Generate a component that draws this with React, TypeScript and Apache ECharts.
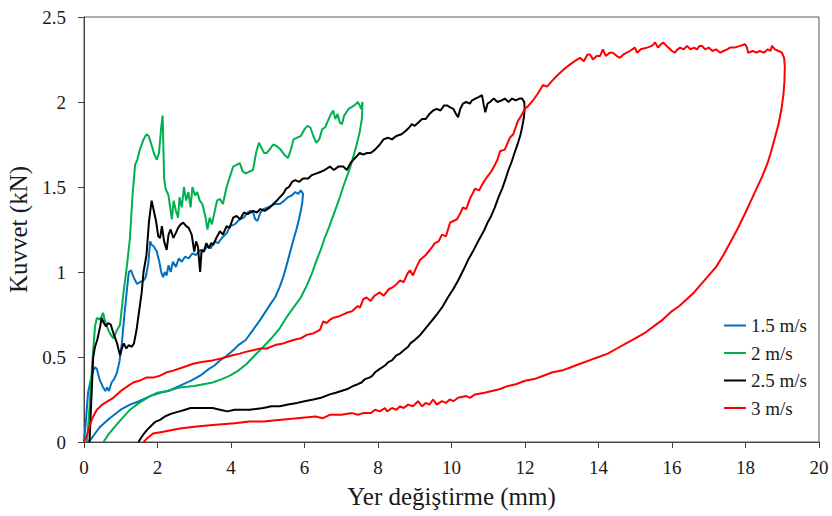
import React, { useEffect, useRef } from "react";
import * as echarts from "echarts";

const seriesNames = ["1.5 m/s", "2 m/s", "2.5 m/s", "3 m/s"];
const seriesColors = ["#0070C0", "#00B050", "#000000", "#FF0000"];
const xTicks = [0, 2, 4, 6, 8, 10, 12, 14, 16, 18, 20];
const yTicks = [0, 0.5, 1, 1.5, 2, 2.5];

const blue15 = [
  [0, 0], [0.05, 0.12], [0.11, 0.29], [0.18, 0.36], [0.25, 0.42], [0.3, 0.44], [0.35, 0.43], [0.42, 0.37],
  [0.5, 0.33], [0.58, 0.3], [0.63, 0.32], [0.68, 0.3], [0.75, 0.35], [0.82, 0.37], [0.9, 0.41], [0.97, 0.48],
  [1.03, 0.58], [1.1, 0.75], [1.17, 0.9], [1.22, 1.0], [1.28, 1.01], [1.35, 0.97], [1.44, 0.93], [1.52, 0.94],
  [1.62, 0.95], [1.68, 0.97], [1.75, 1.05], [1.8, 1.18], [1.84, 1.16], [1.9, 1.15], [1.98, 1.12], [2.05, 1.06],
  [2.1, 1.0], [2.15, 0.97], [2.2, 1.0], [2.25, 0.98], [2.3, 1.04], [2.36, 1.0], [2.42, 1.06], [2.5, 1.03],
  [2.58, 1.08], [2.66, 1.06], [2.75, 1.09], [2.85, 1.08], [2.95, 1.11], [3.05, 1.1], [3.16, 1.13], [3.25, 1.12],
  [3.35, 1.15], [3.45, 1.14], [3.55, 1.18], [3.65, 1.17], [3.75, 1.2], [3.89, 1.23], [3.97, 1.27], [4.1, 1.28],
  [4.24, 1.31], [4.35, 1.32], [4.45, 1.35], [4.52, 1.36], [4.6, 1.35], [4.66, 1.31], [4.72, 1.3], [4.8, 1.35],
  [4.88, 1.37], [5.0, 1.38], [5.1, 1.39], [5.2, 1.4], [5.33, 1.4], [5.45, 1.42], [5.55, 1.44], [5.65, 1.45],
  [5.75, 1.47], [5.83, 1.46], [5.9, 1.48], [5.96, 1.46],
  [5.94, 1.41], [5.9, 1.36], [5.85, 1.31], [5.78, 1.25], [5.7, 1.19], [5.6, 1.11], [5.5, 1.03], [5.42, 0.97],
  [5.32, 0.91], [5.2, 0.85], [5.1, 0.82], [4.98, 0.78], [4.8, 0.72], [4.6, 0.66], [4.4, 0.6], [4.2, 0.57],
  [4.06, 0.54], [3.9, 0.51], [3.7, 0.48], [3.55, 0.45], [3.4, 0.43], [3.16, 0.39], [2.9, 0.36], [2.6, 0.33],
  [2.3, 0.3], [2.07, 0.29], [1.8, 0.27], [1.5, 0.24], [1.25, 0.22], [1.0, 0.19], [0.7, 0.14], [0.44, 0.09],
  [0.3, 0.05], [0.2, 0.02], [0.12, 0]
];

const green2 = [
  [0.08, 0], [0.15, 0.2], [0.22, 0.45], [0.3, 0.68], [0.35, 0.73], [0.42, 0.72], [0.48, 0.74], [0.52, 0.76],
  [0.56, 0.72], [0.62, 0.68], [0.7, 0.64], [0.8, 0.61], [0.88, 0.65], [0.98, 0.69], [1.07, 0.87], [1.17, 1.04],
  [1.25, 1.2], [1.32, 1.45], [1.39, 1.63], [1.45, 1.66], [1.52, 1.72], [1.62, 1.78], [1.7, 1.81], [1.76, 1.8],
  [1.82, 1.76], [1.9, 1.7], [1.98, 1.66], [2.04, 1.7], [2.1, 1.85], [2.14, 1.92], [2.18, 1.55], [2.22, 1.49],
  [2.3, 1.45], [2.39, 1.31], [2.44, 1.42], [2.5, 1.36], [2.56, 1.32], [2.6, 1.44], [2.66, 1.38], [2.72, 1.5],
  [2.78, 1.42], [2.84, 1.47], [2.9, 1.38], [2.95, 1.5], [3.02, 1.45], [3.08, 1.47], [3.15, 1.42], [3.22, 1.4],
  [3.3, 1.33], [3.36, 1.25], [3.42, 1.32], [3.48, 1.28], [3.55, 1.35], [3.62, 1.42], [3.7, 1.43], [3.78, 1.4],
  [3.88, 1.5], [3.97, 1.56], [4.06, 1.62], [4.15, 1.63], [4.24, 1.64], [4.32, 1.59], [4.4, 1.58], [4.5, 1.59],
  [4.6, 1.6], [4.68, 1.7], [4.76, 1.76], [4.83, 1.73], [4.9, 1.7], [4.97, 1.7], [5.05, 1.72], [5.15, 1.75],
  [5.25, 1.74], [5.35, 1.72], [5.45, 1.69], [5.55, 1.67], [5.63, 1.72], [5.7, 1.78], [5.8, 1.79], [5.9, 1.8],
  [6.0, 1.84], [6.08, 1.86], [6.16, 1.85], [6.24, 1.8], [6.32, 1.76], [6.4, 1.78], [6.48, 1.84], [6.56, 1.85],
  [6.62, 1.88], [6.7, 1.92], [6.78, 1.95], [6.84, 1.9], [6.9, 1.93], [6.96, 1.88], [7.02, 1.87], [7.08, 1.92],
  [7.14, 1.94], [7.2, 1.96], [7.28, 1.97], [7.36, 1.98], [7.45, 2.0], [7.5, 1.98], [7.54, 1.96], [7.58, 2.0],
  [7.56, 1.9], [7.5, 1.82], [7.42, 1.75], [7.33, 1.68], [7.25, 1.62], [7.15, 1.56], [7.05, 1.5], [6.98, 1.45],
  [6.88, 1.39], [6.78, 1.33], [6.66, 1.26], [6.55, 1.2], [6.44, 1.13], [6.33, 1.07], [6.2, 0.99], [6.06, 0.92],
  [5.9, 0.85], [5.7, 0.79], [5.5, 0.73], [5.33, 0.67], [5.1, 0.61], [4.88, 0.56], [4.65, 0.51], [4.43, 0.46],
  [4.2, 0.42], [3.97, 0.39], [3.75, 0.37], [3.5, 0.35], [3.25, 0.34], [3.0, 0.33], [2.6, 0.32], [2.25, 0.3],
  [2.0, 0.29], [1.8, 0.27], [1.5, 0.23], [1.25, 0.19], [1.0, 0.13], [0.8, 0.08], [0.65, 0.04], [0.53, 0]
];

const black25 = [
  [0.15, 0], [0.2, 0.25], [0.25, 0.5], [0.3, 0.56], [0.36, 0.6], [0.44, 0.68], [0.48, 0.73], [0.54, 0.7],
  [0.6, 0.68], [0.66, 0.7], [0.73, 0.69], [0.8, 0.64], [0.9, 0.58], [0.98, 0.51], [1.03, 0.55], [1.08, 0.58],
  [1.15, 0.55], [1.22, 0.57], [1.3, 0.56], [1.36, 0.58], [1.43, 0.66], [1.5, 0.77], [1.57, 0.88], [1.62, 1.0],
  [1.7, 1.1], [1.77, 1.3], [1.84, 1.42], [1.9, 1.36], [1.96, 1.3], [2.02, 1.21], [2.07, 1.2], [2.12, 1.27],
  [2.18, 1.18], [2.25, 1.13], [2.3, 1.22], [2.36, 1.25], [2.43, 1.2], [2.5, 1.23], [2.56, 1.26], [2.63, 1.28],
  [2.7, 1.29], [2.78, 1.27], [2.85, 1.26], [2.93, 1.22], [3.0, 1.12], [3.05, 1.18], [3.1, 1.15], [3.16, 1.0],
  [3.2, 1.13], [3.26, 1.12], [3.33, 1.17], [3.4, 1.14], [3.46, 1.17], [3.52, 1.16], [3.6, 1.2], [3.7, 1.24],
  [3.78, 1.22], [3.88, 1.27], [3.96, 1.26], [4.06, 1.32], [4.15, 1.33], [4.25, 1.31], [4.35, 1.35], [4.45, 1.34],
  [4.6, 1.36], [4.7, 1.35], [4.8, 1.37], [4.92, 1.36], [5.06, 1.38], [5.15, 1.4], [5.25, 1.42], [5.33, 1.44],
  [5.42, 1.46], [5.5, 1.49], [5.58, 1.5], [5.66, 1.53], [5.75, 1.54], [5.85, 1.53], [5.96, 1.55], [6.1, 1.55],
  [6.2, 1.57], [6.33, 1.58], [6.45, 1.59], [6.55, 1.6], [6.69, 1.62], [6.8, 1.6], [6.92, 1.62], [7.06, 1.62],
  [7.15, 1.6], [7.25, 1.64], [7.33, 1.66], [7.42, 1.68], [7.5, 1.7], [7.6, 1.69], [7.7, 1.7], [7.8, 1.7],
  [7.92, 1.72], [8.05, 1.75], [8.15, 1.78], [8.27, 1.79], [8.38, 1.78], [8.5, 1.8], [8.64, 1.81], [8.75, 1.83],
  [8.85, 1.85], [8.92, 1.87], [9.0, 1.86], [9.1, 1.88], [9.2, 1.9], [9.3, 1.9], [9.4, 1.93], [9.5, 1.95],
  [9.6, 1.96], [9.7, 1.95], [9.8, 1.98], [9.88, 1.98], [9.95, 1.97], [10.05, 1.96], [10.12, 1.93], [10.18, 1.91],
  [10.24, 1.96], [10.31, 1.99], [10.4, 2.0], [10.5, 1.99], [10.56, 2.01], [10.65, 2.02], [10.75, 2.03], [10.83, 2.04],
  [10.88, 1.98], [10.92, 1.94], [10.98, 1.99], [11.05, 2.0], [11.15, 2.02], [11.25, 2.0], [11.37, 2.01], [11.45, 2.02],
  [11.55, 2.0], [11.65, 2.02], [11.75, 2.01], [11.85, 2.02], [11.92, 2.02], [11.98, 2.0],
  [11.99, 1.96], [11.97, 1.91], [11.93, 1.86], [11.88, 1.81], [11.81, 1.76], [11.73, 1.71], [11.64, 1.65], [11.55, 1.6],
  [11.46, 1.54], [11.38, 1.49], [11.28, 1.44], [11.18, 1.38], [11.08, 1.33], [10.98, 1.29], [10.9, 1.25], [10.8, 1.21],
  [10.7, 1.17], [10.58, 1.12], [10.45, 1.07], [10.32, 1.01], [10.18, 0.95], [10.05, 0.9], [9.9, 0.85], [9.74, 0.79],
  [9.6, 0.75], [9.45, 0.71], [9.3, 0.67], [9.15, 0.63], [9.0, 0.6], [8.88, 0.58], [8.82, 0.56], [8.7, 0.54],
  [8.6, 0.52], [8.5, 0.51], [8.38, 0.48], [8.28, 0.47], [8.19, 0.45], [8.05, 0.43], [7.92, 0.41], [7.85, 0.39],
  [7.78, 0.38], [7.65, 0.37], [7.55, 0.35], [7.45, 0.34], [7.33, 0.33], [7.15, 0.31], [7.0, 0.3], [6.85, 0.29],
  [6.69, 0.28], [6.45, 0.26], [6.24, 0.25], [6.0, 0.24], [5.8, 0.23], [5.55, 0.22], [5.33, 0.21], [5.1, 0.21],
  [4.88, 0.2], [4.5, 0.19], [4.1, 0.19], [3.9, 0.18], [3.7, 0.19], [3.5, 0.2], [3.3, 0.2], [3.07, 0.2],
  [2.9, 0.2], [2.75, 0.19], [2.6, 0.18], [2.43, 0.17], [2.3, 0.16], [2.2, 0.15], [2.07, 0.13], [1.95, 0.12],
  [1.85, 0.1], [1.71, 0.07], [1.6, 0.04], [1.48, 0]
];

const red3 = [
  [0, 0], [0.08, 0.04], [0.16, 0.1], [0.25, 0.15], [0.35, 0.19], [0.5, 0.22], [0.65, 0.24], [0.8, 0.26],
  [1.0, 0.3], [1.2, 0.33], [1.34, 0.35], [1.5, 0.36], [1.71, 0.38], [1.9, 0.38], [2.07, 0.39], [2.25, 0.41],
  [2.43, 0.42], [2.7, 0.44], [2.97, 0.46], [3.2, 0.47], [3.5, 0.48], [3.7, 0.49], [3.88, 0.5], [4.05, 0.51],
  [4.24, 0.52], [4.4, 0.53], [4.6, 0.54], [4.8, 0.55], [4.97, 0.55], [5.2, 0.57], [5.42, 0.58], [5.55, 0.59],
  [5.7, 0.6], [5.9, 0.61], [6.06, 0.63], [6.25, 0.64], [6.42, 0.66], [6.51, 0.71], [6.6, 0.7], [6.7, 0.72],
  [6.78, 0.73], [6.95, 0.74], [7.15, 0.76], [7.3, 0.77], [7.45, 0.8], [7.51, 0.79], [7.6, 0.84], [7.69, 0.85],
  [7.8, 0.83], [7.9, 0.86], [8.05, 0.88], [8.15, 0.86], [8.3, 0.9], [8.4, 0.91], [8.51, 0.93], [8.6, 0.95],
  [8.7, 0.94], [8.8, 0.99], [8.87, 1.01], [8.95, 0.98], [9.05, 1.03], [9.14, 1.07], [9.3, 1.1], [9.45, 1.14],
  [9.55, 1.17], [9.65, 1.18], [9.74, 1.22], [9.85, 1.21], [9.96, 1.29], [10.05, 1.3], [10.15, 1.31], [10.25, 1.35],
  [10.31, 1.38], [10.4, 1.37], [10.5, 1.43], [10.64, 1.49], [10.75, 1.48], [10.85, 1.52], [10.97, 1.56], [11.08, 1.59],
  [11.18, 1.63], [11.25, 1.66], [11.32, 1.71], [11.45, 1.72], [11.59, 1.79], [11.68, 1.81], [11.81, 1.89], [11.9, 1.92],
  [12.0, 1.96], [12.1, 1.98], [12.22, 2.01], [12.35, 2.05], [12.49, 2.1], [12.6, 2.09], [12.76, 2.13], [12.85, 2.15],
  [12.95, 2.17], [13.1, 2.2], [13.22, 2.22], [13.35, 2.24], [13.5, 2.26], [13.6, 2.24], [13.7, 2.28], [13.77, 2.28],
  [13.85, 2.25], [13.95, 2.27], [14.04, 2.27], [14.12, 2.31], [14.2, 2.27], [14.3, 2.29], [14.39, 2.29], [14.5, 2.27],
  [14.58, 2.26], [14.68, 2.28], [14.77, 2.29], [14.85, 2.3], [14.99, 2.32], [15.05, 2.29], [15.15, 2.31], [15.32, 2.32],
  [15.45, 2.33], [15.54, 2.35], [15.62, 2.32], [15.7, 2.34], [15.76, 2.35], [15.9, 2.32], [16.0, 2.3], [16.08, 2.29],
  [16.15, 2.31], [16.22, 2.32], [16.32, 2.31], [16.41, 2.33], [16.5, 2.31], [16.6, 2.32], [16.68, 2.31], [16.75, 2.33],
  [16.82, 2.33], [16.9, 2.31], [17.0, 2.32], [17.1, 2.3], [17.2, 2.31], [17.31, 2.29], [17.4, 2.3], [17.5, 2.31],
  [17.58, 2.32], [17.7, 2.32], [17.85, 2.33], [17.99, 2.34], [18.04, 2.32], [18.07, 2.29], [18.2, 2.3], [18.3, 2.29],
  [18.39, 2.3], [18.5, 2.29], [18.61, 2.31], [18.68, 2.3], [18.72, 2.33], [18.8, 2.31], [18.9, 2.3], [18.99, 2.29],
  [19.05, 2.26],
  [19.07, 2.21], [19.06, 2.12], [19.03, 2.04], [18.98, 1.96], [18.9, 1.87], [18.8, 1.79], [18.7, 1.71], [18.6, 1.64],
  [18.45, 1.56], [18.3, 1.49], [18.15, 1.42], [18.0, 1.35], [17.8, 1.26], [17.6, 1.18], [17.4, 1.1], [17.2, 1.03],
  [17.0, 0.98], [16.8, 0.93], [16.6, 0.88], [16.4, 0.84], [16.2, 0.8], [16.0, 0.77], [15.75, 0.72], [15.5, 0.68],
  [15.25, 0.64], [15.0, 0.61], [14.75, 0.58], [14.5, 0.55], [14.25, 0.52], [14.0, 0.5], [13.75, 0.48], [13.5, 0.46],
  [13.25, 0.44], [13.0, 0.42], [12.75, 0.41], [12.5, 0.39], [12.25, 0.37], [12.0, 0.36], [11.75, 0.34], [11.54, 0.33],
  [11.3, 0.31], [11.1, 0.3], [10.9, 0.29], [10.64, 0.28], [10.5, 0.26], [10.4, 0.27], [10.18, 0.26], [10.05, 0.24],
  [9.95, 0.25], [9.85, 0.23], [9.74, 0.24], [9.6, 0.22], [9.5, 0.25], [9.4, 0.22], [9.3, 0.23], [9.2, 0.21],
  [9.09, 0.24], [8.95, 0.21], [8.82, 0.22], [8.7, 0.2], [8.6, 0.21], [8.5, 0.19], [8.38, 0.2], [8.25, 0.18],
  [8.19, 0.2], [8.05, 0.18], [7.92, 0.19], [7.8, 0.17], [7.6, 0.17], [7.45, 0.16], [7.3, 0.17], [7.0, 0.16],
  [6.69, 0.16], [6.5, 0.14], [6.3, 0.15], [5.8, 0.14], [5.3, 0.13], [4.88, 0.12], [4.5, 0.12], [4.1, 0.11],
  [3.5, 0.1], [3.0, 0.09], [2.61, 0.08], [2.4, 0.07], [2.16, 0.06], [1.88, 0.05], [1.71, 0.02], [1.62, 0]
];

const seriesData = [blue15, green2, black25, red3];

const FONT = "Liberation Serif";
const TEXT = "#1a1a1a";
const AXIS = "#404040";

export default function App() {
  const ref = useRef<HTMLDivElement>(null);
  useEffect(() => {
    if (!ref.current) return;
    const chart = echarts.init(ref.current, null, { renderer: "svg" });
    chart.setOption({
      animation: false,
      backgroundColor: "#ffffff",
      textStyle: { fontFamily: FONT },
      grid: {
        left: 84,
        right: 13,
        top: 17,
        bottom: 74,
        containLabel: false,
        outerBoundsMode: "none",
        show: true,
        borderColor: "#595959",
        borderWidth: 1,
      },
      legend: {
        orient: "vertical",
        left: 724,
        top: 316,
        padding: 0,
        itemWidth: 22,
        itemHeight: 2,
        itemGap: 8.5,
        icon: "rect",
        data: seriesNames,
        textStyle: { fontFamily: FONT, fontSize: 19, color: TEXT, lineHeight: 18 },
      },
      xAxis: {
        type: "value",
        min: xTicks[0],
        max: xTicks[xTicks.length - 1],
        interval: 2,
        name: "Yer değiştirme (mm)",
        nameLocation: "middle",
        nameGap: 42,
        nameTextStyle: { fontFamily: FONT, fontSize: 25, color: TEXT },
        axisLine: { show: true, lineStyle: { color: AXIS, width: 1 } },
        axisTick: { show: true, inside: false, length: 6, lineStyle: { color: AXIS } },
        axisLabel: { fontFamily: FONT, fontSize: 19, color: TEXT, margin: 16 },
        splitLine: { show: false },
      },
      yAxis: {
        type: "value",
        min: yTicks[0],
        max: yTicks[yTicks.length - 1],
        interval: 0.5,
        name: "Kuvvet (kN)",
        nameLocation: "middle",
        nameGap: 51,
        nameTextStyle: { fontFamily: FONT, fontSize: 25, color: TEXT },
        axisLine: { show: true, lineStyle: { color: AXIS, width: 1 } },
        axisTick: { show: true, inside: false, length: 6, lineStyle: { color: AXIS } },
        axisLabel: { fontFamily: FONT, fontSize: 19, color: TEXT, margin: 18 },
        splitLine: { show: false },
      },
      series: seriesNames.map((name, i) => ({
        name,
        type: "line",
        data: seriesData[i],
        showSymbol: false,
        symbol: "none",
        color: seriesColors[i],
        lineStyle: { color: seriesColors[i], width: 2 },
        z: 2 + i,
      })),
    });
    return () => chart.dispose();
  }, []);
  return (
    <div style={{ position: "fixed", left: 0, top: 0, width: 832, height: 516, background: "#fff" }}>
      <div ref={ref} style={{ width: 832, height: 516 }} />
    </div>
  );
}
